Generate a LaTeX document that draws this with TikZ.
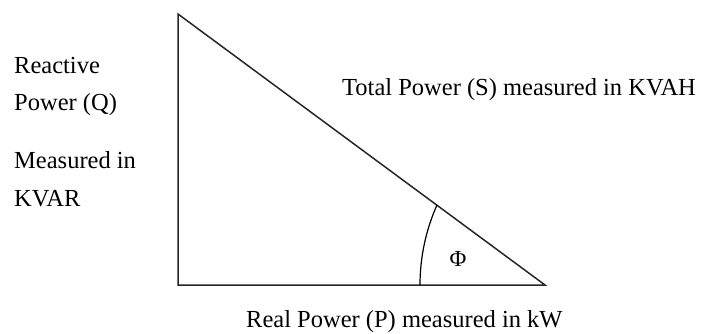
\documentclass[tikz,border=0pt]{standalone}
\usepackage{fontspec}
\setmainfont{Liberation Serif}
\begin{document}
\begin{tikzpicture}[x=1pt,y=-1pt,
  lbl/.style={anchor=base west,inner sep=0pt,font=\fontsize{24.5}{28}\selectfont},
  edge/.style={line width=1.5pt,draw=black!85}]
\useasboundingbox (0,0) rectangle (704,333);
\coordinate (T) at (178,14);
\coordinate (O) at (178,285);
\coordinate (R) at (545,285);
\draw[edge,line join=miter] (T) -- (O) -- (R) -- cycle;
\coordinate (A1) at (420,285);
\draw[line width=1.2pt] (A1) arc[start angle=180,end angle=204,radius=197];
\node[inner sep=0pt,font=\fontsize{23}{26}\selectfont] (phi) at (458,259) {Φ};
\node[lbl] (q1) at (14,73) {Reactive};
\node[lbl] (q2) at (14,110) {Power (Q)};
\node[lbl] (q3) at (14,168) {Measured in};
\node[lbl] (q4) at (14,206) {KVAR};
\node[lbl] (s) at (342,95) {Total Power (S) measured in KVAH};
\node[lbl] (p) at (246,327) {Real Power (P) measured in kW};
\end{tikzpicture}
\end{document}
